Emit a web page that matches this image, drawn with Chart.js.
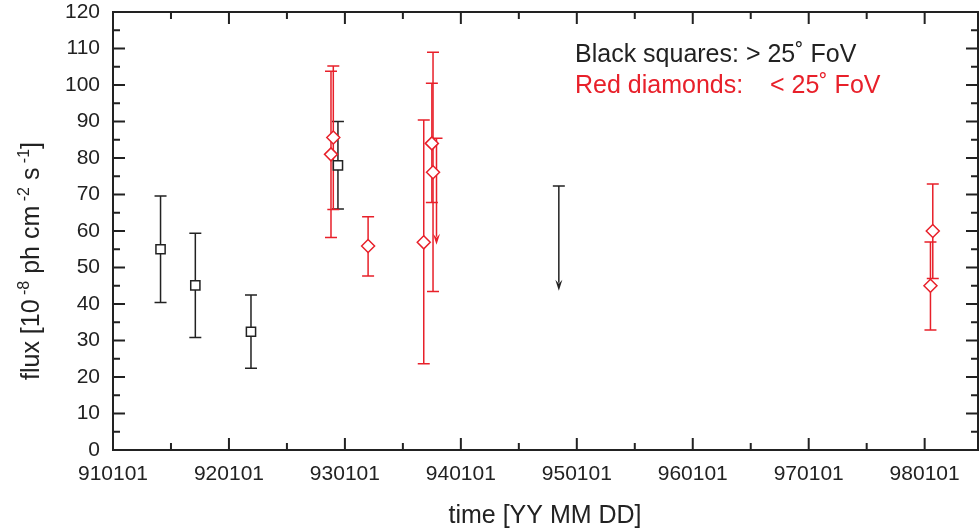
<!DOCTYPE html>
<html lang="en">
<head>
<meta charset="UTF-8">
<title>Flux light curve</title>
<script src="https://cdn.jsdelivr.net/npm/chart.js"></script>
<style>
  body { margin: 0; background: #fff; }
</style>
</head>
<body>
<canvas id="fluxChart" width="979" height="531"></canvas>
<script>
    // time in decimal years, flux in 10^-8 ph cm^-2 s^-1
    const squareTime = [1991.41, 1991.71, 1992.19, 1992.94];
    const squareFlux = [55.0, 45.1, 32.4, 78.0];
    const squareLow  = [40.4, 30.8, 22.4, 66.0];
    const squareHigh = [69.6, 59.4, 42.5, 90.0];

    const diamondTime = [1992.88, 1992.90, 1993.20, 1993.68, 1993.75, 1993.76, 1998.05, 1998.07];
    const diamondFlux = [81.0, 85.6, 55.9, 56.9, 84.0, 76.1, 45.0, 60.0];
    const diamondLow  = [58.2, 65.9, 47.7, 23.6, 67.8, 43.4, 32.9, 47.0];
    const diamondHigh = [103.8, 105.2, 63.9, 90.4, 100.5, 109.0, 57.0, 72.9];

    // upper limits: cap value and arrow tip
    const limitBlackTime = [1994.845];
    const limitBlackTop  = [72.3];
    const limitBlackTip  = [43.6];
    const limitRedTime = [1993.79];
    const limitRedTop  = [85.4];
    const limitRedTip  = [56.2];

    const yTicks = [0, 10, 20, 30, 40, 50, 60, 70, 80, 90, 100, 110, 120];
    const xMin = 1991, xMax = 1998.46;

    const BLACK = '#222222';
    const RED = '#e8202a';
    const FONT = "'Liberation Sans', Arial, sans-serif";

    const toPoints = (xs, ys) => xs.map((x, i) => ({ x: x, y: ys[i] }));

    // error bars and upper limit arrows, drawn under the markers
    const errorBars = {
        id: 'errorBars',
        beforeDatasetsDraw(chart) {
            const ctx = chart.ctx;
            const xs = chart.scales.x, ys = chart.scales.y;
            const cap = 6;
            ctx.save();
            ctx.lineWidth = 1.5;
            chart.data.datasets.forEach(ds => {
                ctx.strokeStyle = ds.borderColor;
                ctx.fillStyle = ds.borderColor;
                if (ds.errLow) {
                    ds.data.forEach((p, i) => {
                        const px = xs.getPixelForValue(p.x);
                        const lo = ys.getPixelForValue(ds.errLow[i]);
                        const hi = ys.getPixelForValue(ds.errHigh[i]);
                        ctx.beginPath();
                        ctx.moveTo(px, lo); ctx.lineTo(px, hi);
                        ctx.moveTo(px - cap, lo); ctx.lineTo(px + cap, lo);
                        ctx.moveTo(px - cap, hi); ctx.lineTo(px + cap, hi);
                        ctx.stroke();
                    });
                }
                if (ds.limitTop) {
                    ds.limitTime.forEach((t, i) => {
                        const px = xs.getPixelForValue(t);
                        const top = ys.getPixelForValue(ds.limitTop[i]);
                        const tip = ys.getPixelForValue(ds.limitTip[i]);
                        ctx.beginPath();
                        ctx.moveTo(px - cap, top); ctx.lineTo(px + cap, top);
                        ctx.moveTo(px, top); ctx.lineTo(px, tip - 8);
                        ctx.stroke();
                        ctx.beginPath();
                        ctx.moveTo(px - 3.5, tip - 11);
                        ctx.lineTo(px, tip - 7);
                        ctx.lineTo(px + 3.5, tip - 11);
                        ctx.lineTo(px, tip);
                        ctx.closePath();
                        ctx.fill();
                    });
                }
            });
            ctx.restore();
        }
    };

    // frame with inward ticks on all four sides, titles and text legend
    const frame = {
        id: 'frame',
        afterDraw(chart) {
            const ctx = chart.ctx;
            const a = chart.chartArea;
            const xs = chart.scales.x, ys = chart.scales.y;
            ctx.save();
            ctx.strokeStyle = BLACK;
            ctx.lineWidth = 2;
            ctx.strokeRect(a.left, a.top, a.right - a.left, a.bottom - a.top);
            ctx.beginPath();
            for (let v = 0; v <= 120; v += 5) {
                const py = ys.getPixelForValue(v);
                const len = v % 10 === 0 ? 12 : 7;
                ctx.moveTo(a.left, py); ctx.lineTo(a.left + len, py);
                ctx.moveTo(a.right, py); ctx.lineTo(a.right - len, py);
            }
            for (let t = xMin; t <= xMax; t += 0.5) {
                const px = xs.getPixelForValue(t);
                const len = Number.isInteger(t) ? 12 : 7;
                ctx.moveTo(px, a.bottom); ctx.lineTo(px, a.bottom - len);
                ctx.moveTo(px, a.top); ctx.lineTo(px, a.top + len);
            }
            ctx.stroke();

            // x title
            ctx.fillStyle = BLACK;
            ctx.font = '25px ' + FONT;
            ctx.textAlign = 'center';
            ctx.textBaseline = 'alphabetic';
            ctx.fillText('time [YY MM DD]', 545, 523);

            // y title with superscripts
            const parts = [
                ['flux [10', false], [' -8', true], [' ph cm', false], [' -2', true],
                [' s', false], [' -1', true], [']', false]
            ];
            const widthOf = p => { ctx.font = (p[1] ? '16px ' : '25px ') + FONT; return ctx.measureText(p[0]).width; };
            const total = parts.reduce((s, p) => s + widthOf(p), 0);
            ctx.translate(39, 261);
            ctx.rotate(-Math.PI / 2);
            ctx.textAlign = 'left';
            let cx = -total / 2;
            parts.forEach(p => {
                const w = widthOf(p);
                ctx.fillText(p[0], cx, p[1] ? -10 : 0);
                cx += w;
            });
            ctx.setTransform(1, 0, 0, 1, 0, 0);

            // text legend
            ctx.font = '25px ' + FONT;
            ctx.textAlign = 'left';
            ctx.fillStyle = BLACK;
            ctx.fillText('Black squares: > 25˚ FoV', 575, 62);
            ctx.fillStyle = RED;
            ctx.fillText('Red diamonds:', 575, 93);
            ctx.fillText('< 25˚ FoV', 770, 93);
            ctx.restore();
        }
    };

    const ctx = document.getElementById('fluxChart').getContext('2d');
    const fluxChart = new Chart(ctx, {
        type: 'scatter',
        data: {
            datasets: [
                {
                    data: toPoints(squareTime, squareFlux),
                    errLow: squareLow, errHigh: squareHigh,
                    pointStyle: 'rect', pointRadius: 6.5,
                    backgroundColor: '#ffffff', borderColor: BLACK, borderWidth: 1.5
                },
                {
                    data: toPoints(diamondTime, diamondFlux),
                    errLow: diamondLow, errHigh: diamondHigh,
                    pointStyle: 'rectRot', pointRadius: 6.5,
                    backgroundColor: '#ffffff', borderColor: RED, borderWidth: 1.5
                },
                {
                    data: [], limitTime: limitBlackTime, limitTop: limitBlackTop, limitTip: limitBlackTip,
                    pointRadius: 0, borderColor: BLACK
                },
                {
                    data: [], limitTime: limitRedTime, limitTop: limitRedTop, limitTip: limitRedTip,
                    pointRadius: 0, borderColor: RED
                }
            ]
        },
        options: {
            responsive: false,
            animation: false,
            devicePixelRatio: 1,
            layout: { autoPadding: false, padding: { top: 12, right: 1, left: 0, bottom: 0 } },
            plugins: { legend: { display: false }, tooltip: { enabled: false } },
            scales: {
                x: {
                    type: 'linear',
                    min: xMin, max: xMax,
                    grid: { display: false, drawTicks: false },
                    border: { display: false },
                    afterFit: s => { s.height = 81; s.paddingLeft = 0; s.paddingRight = 0; },
                    ticks: {
                        stepSize: 1, includeBounds: false, padding: 12,
                        color: BLACK, font: { family: FONT, size: 21 },
                        maxRotation: 0, autoSkip: false,
                        callback: v => (Math.round(v) - 1900) + '0101'
                    }
                },
                y: {
                    min: yTicks[0], max: yTicks[yTicks.length - 1],
                    grid: { display: false, drawTicks: false },
                    border: { display: false },
                    afterFit: s => { s.width = 113; s.paddingTop = 0; s.paddingBottom = 0; },
                    afterBuildTicks: s => { s.ticks = yTicks.map(v => ({ value: v })); },
                    ticks: {
                        padding: 13, color: BLACK, font: { family: FONT, size: 21 }
                    }
                }
            }
        },
        plugins: [errorBars, frame]
    });
</script>
</body>
</html>
